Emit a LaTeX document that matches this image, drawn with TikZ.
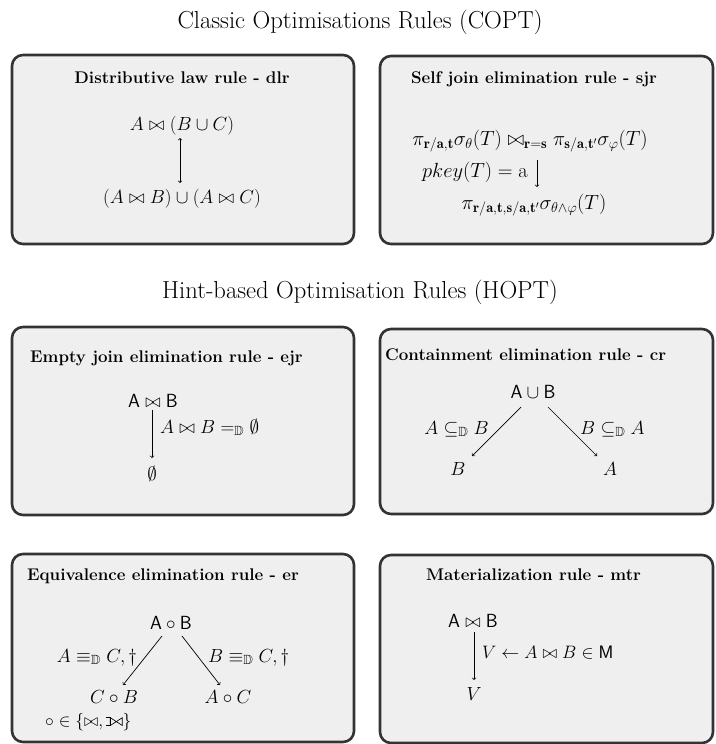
\RequirePackage{fix-cm}
\documentclass[tikz,border=0pt]{standalone}
\usepackage{amsmath,amssymb}
\usepackage{fontspec}
\usetikzlibrary{calc}
\definecolor{boxfill}{HTML}{EFEFEF}
\definecolor{boxline}{HTML}{333333}
\newcommand{\lojoin}{\mathrel{\tikz[baseline={(0,-4.4pt)}, x=1pt, y=1pt, line width=0.65pt, line join=miter]{\draw (-4,3.9) -- (0,3.9) -- (0,-3.9) -- (-4,-3.9); \draw (0,3.9) -- (12,-3.9) -- (12,3.9) -- (0,-3.9) -- cycle;}}}
\tikzset{
  rulebox/.style={draw=boxline, fill=boxfill, line width=2.6pt, rounded corners=11pt},
  maintitle/.style={font=\fontsize{24.6}{28}\selectfont, inner sep=0pt, anchor=base},
  boxtitle/.style={font=\fontsize{16.9}{20}\selectfont\bfseries, inner sep=0pt},
  expr/.style={font=\fontsize{19}{22}\selectfont, inner sep=0pt},
  bigexpr/.style={font=\fontsize{20.5}{24}\selectfont, inner sep=0pt},
  lbl/.style={font=\fontsize{19}{22}\selectfont, inner sep=0pt},
  arr/.style={->, line width=0.7pt},
  darr/.style={<->, line width=0.7pt}
}
\begin{document}
\begin{tikzpicture}[x=1pt,y=-1pt]
\useasboundingbox (0,0) rectangle (715,744);

% titles
\node[maintitle] (t1) at (360,28) {Classic Optimisations Rules (COPT)};
\node[maintitle] (t2) at (360,298) {Hint-based Optimisation Rules (HOPT)};

% boxes
\draw[rulebox] (12,55) rectangle (354,244);
\draw[rulebox] (380,56) rectangle (713,244);
\draw[rulebox] (12,327) rectangle (354,515);
\draw[rulebox] (380,329) rectangle (713,514);
\draw[rulebox] (12,554) rectangle (354,742);
\draw[rulebox] (380,555) rectangle (713,743);

% box 1: dlr
\node[boxtitle, anchor=base] (h1) at (182,83) {Distributive law rule - dlr};
\node[expr] (d1) at (182,126) {$A \bowtie (B \cup C)$};
\node[expr] (d2) at (182,199) {$(A \bowtie B) \cup (A \bowtie C)$};
\draw[darr] ([xshift=-2pt,yshift=-12pt]d1.center) -- ([xshift=-2pt,yshift=16pt]d2.center);

% box 2: sjr
\node[boxtitle, anchor=base] (h2) at (534,83) {Self join elimination rule - sjr};
\node[bigexpr] (s1) at (530,141) {$\pi_{\mathbf{r/a,t}}\sigma_{\theta}(T) \bowtie_{\mathbf{r=s}} \pi_{\mathbf{s/a,t'}}\sigma_{\varphi}(T)$};
\node[bigexpr] (s2) at (534,205) {$\pi_{\mathbf{r/a,t,s/a,t'}}\sigma_{\theta\wedge\varphi}(T)$};
\draw[arr] ([xshift=7pt,yshift=-19pt]s1.center) -- ([xshift=3pt,yshift=18pt]s2.center);
\node[bigexpr, anchor=east] (s3) at (528,172) {$pkey(T) = \mathrm{a}$};

% box 3: ejr
\node[boxtitle, anchor=base west] (h3) at (30,362) {Empty join elimination rule - ejr};
\node[expr] (e1) at (153,401) {$\mathsf{A} \bowtie \mathsf{B}$};
\node[expr] (e2) at (152,474) {$\emptyset$};
\draw[arr] ([xshift=-1pt,yshift=-9pt]e1.center) -- ([yshift=16pt]e2.center);
\node[lbl, anchor=base west] (e3) at (160,433) {$A \bowtie B =_{\mathbb{D}} \emptyset$};

% box 4: cr
\node[boxtitle, anchor=base west] (h4) at (385,360) {Containment elimination rule - cr};
\node[expr, anchor=base] (c1) at (533,398) {$\mathsf{A} \cup \mathsf{B}$};
\node[expr, anchor=base] (c2) at (458,475) {$B$};
\node[expr, anchor=base] (c3) at (610,475) {$A$};
\draw[arr] ([xshift=-12pt,yshift=-9pt]c1.base) -- ([xshift=14pt,yshift=19pt]c2.base);
\draw[arr] ([xshift=15pt,yshift=-9pt]c1.base) -- ([xshift=-13pt,yshift=19pt]c3.base);
\node[lbl, anchor=base east] (c4) at (489,434) {$A \subseteq_{\mathbb{D}} B$};
\node[lbl, anchor=base west] (c5) at (580,434) {$B \subseteq_{\mathbb{D}} A$};

% box 5: er
\node[boxtitle, anchor=base west] (h5) at (27,580) {Equivalence elimination rule - er};
\node[expr, anchor=base] (q1) at (171,629) {$\mathsf{A} \circ \mathsf{B}$};
\node[expr, anchor=base] (q2) at (114,703) {$C \circ B$};
\node[expr, anchor=base] (q3) at (228,703) {$A \circ C$};
\draw[arr] ([xshift=-9pt,yshift=-7pt]q1.base) -- ([xshift=9pt,yshift=18pt]q2.base);
\draw[arr] ([xshift=11pt,yshift=-7pt]q1.base) -- ([xshift=-8pt,yshift=18pt]q3.base);
\node[lbl, anchor=base east] (q4) at (137,662) {$A \equiv_{\mathbb{D}} C, \dagger$};
\node[lbl, anchor=base west] (q5) at (208,662) {$B \equiv_{\mathbb{D}} C, \dagger$};
\node[lbl, anchor=base west, font=\fontsize{17.5}{20}\selectfont] (q6) at (45,726) {$\circ \in \{\bowtie, \lojoin\}$};

% box 6: mtr
\node[boxtitle, anchor=base] (h6) at (533.5,580) {Materialization rule - mtr};
\node[expr] (m1) at (473,621) {$\mathsf{A} \bowtie \mathsf{B}$};
\node[expr] (m2) at (474,694) {$V$};
\draw[arr] ([xshift=1pt,yshift=-11pt]m1.center) -- ([yshift=14pt]m2.center);
\node[lbl, anchor=base west, font=\fontsize{18}{21}\selectfont] (m3) at (482,658) {$V \leftarrow A \bowtie B \in \mathsf{M}$};
\end{tikzpicture}
\end{document}
